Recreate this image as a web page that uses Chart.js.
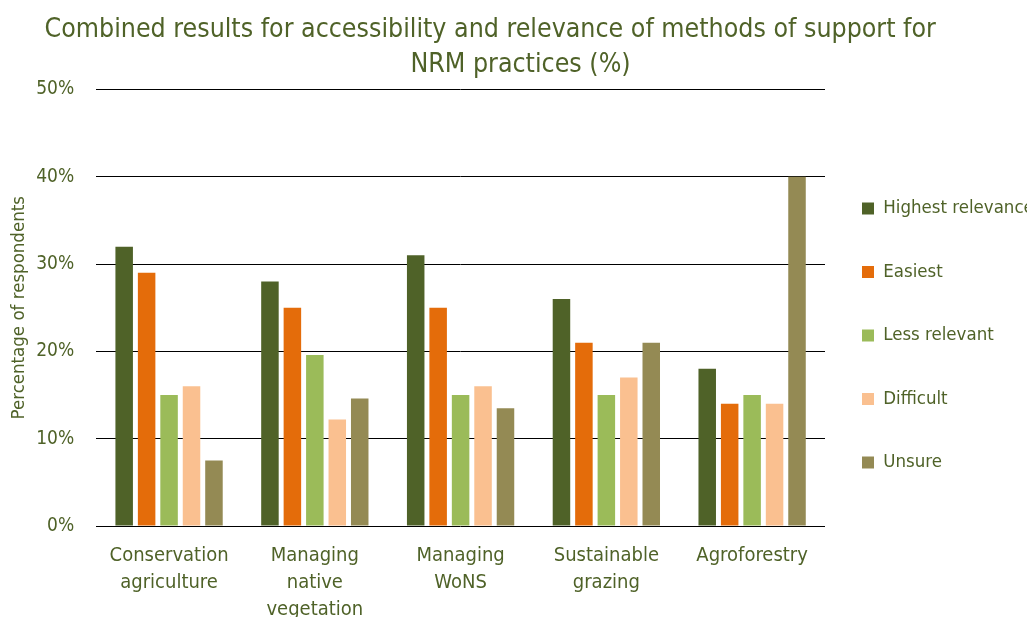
<!DOCTYPE html>
<html>
<head>
<meta charset="utf-8">
<script src="https://cdn.jsdelivr.net/npm/chart.js@4"></script>
<style>
  body { margin: 0; background: #fff; }
  #chart-output { display: block; }
</style>
</head>
<body>
<canvas id="chart-output" width="1035" height="617"></canvas>
<script>
// chart data (percent of respondents)
const categories = [
  ["Conservation", "agriculture"],
  ["Managing", "native", "vegetation"],
  ["Managing", "WoNS"],
  ["Sustainable", "grazing"],
  ["Agroforestry"],
];
const highestRelevance = [32, 28, 31, 26, 18];
const easiest = [29, 25, 25, 21, 14];
const lessRelevant = [15, 19.6, 15, 15, 15];
const difficult = [16, 12.2, 16, 17, 14];
const unsure = [7.5, 14.6, 13.5, 21, 40];
const yTicks = [0, 10, 20, 30, 40, 50];

const textColor = "#4f6228";
const fontFamily = "'DejaVu Sans Condensed', 'Open Sans', sans-serif";

const data = {
  labels: categories,
  datasets: [
    { label: "Highest relevance", data: highestRelevance, backgroundColor: "#4f6228" },
    { label: "Easiest", data: easiest, backgroundColor: "#e46c0a" },
    { label: "Less relevant", data: lessRelevant, backgroundColor: "#9bbb59" },
    { label: "Difficult", data: difficult, backgroundColor: "#fac090" },
    { label: "Unsure", data: unsure, backgroundColor: "#948a54" },
  ],
};

// the legend sits a bit closer to the plot than chart.js puts it by default
const legendNudge = {
  id: "legendNudge",
  afterLayout(chart) {
    const lg = chart.legend;
    lg.left -= 8;
    lg.right -= 8;
    lg.top += 16;
    lg.bottom += 16;
  },
};

const config = {
  type: "bar",
  data: data,
  plugins: [legendNudge],
  options: {
    responsive: false,
    animation: false,
    layout: { padding: { top: 8, right: 0, bottom: -14, left: 6 } },
    datasets: {
      bar: { categoryPercentage: 0.77, barPercentage: 0.78 },
    },
    plugins: {
      title: {
        display: true,
        // trailing spaces: the first line sits left of centre in the original
        text: [
          "Combined results for accessibility and relevance of methods of support for        ",
          "NRM practices (%)",
        ],
        color: textColor,
        font: { family: fontFamily, size: 26.5, weight: "normal", lineHeight: 1.33 },
        padding: { top: 4, bottom: 7 },
      },
      legend: {
        position: "right",
        maxWidth: 210,
        labels: {
          color: textColor,
          boxWidth: 12,
          boxHeight: 12,
          padding: 45,
          font: { family: fontFamily, size: 18.5 },
        },
      },
      tooltip: { enabled: false },
    },
    scales: {
      x: {
        grid: { display: false },
        border: { display: false },
        ticks: {
          color: textColor,
          font: { family: fontFamily, size: 20, lineHeight: 1.35 },
          maxRotation: 0,
          padding: 8,
        },
      },
      y: {
        min: 0,
        max: 50,
        afterBuildTicks: (axis) => {
          axis.ticks = yTicks.map((v) => ({ value: v }));
        },
        grid: { color: "#000", lineWidth: 1, drawTicks: false },
        border: { display: false },
        ticks: {
          color: textColor,
          padding: 22,
          font: { family: fontFamily, size: 19 },
          callback: (value) => `${value}%`,
        },
        title: {
          display: true,
          text: "Percentage of respondents",
          color: textColor,
          font: { family: fontFamily, size: 18.5 },
          padding: { top: 2, bottom: -16 },
        },
      },
    },
  },
};

const ctx = document.querySelector("#chart-output").getContext("2d");
new Chart(ctx, config);
</script>
</body>
</html>
